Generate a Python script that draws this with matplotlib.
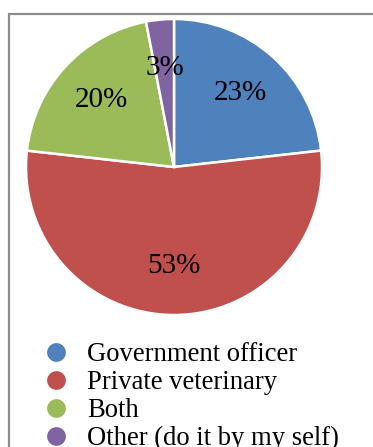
import matplotlib.pyplot as plt
from matplotlib.lines import Line2D
from matplotlib.patches import Rectangle

labels = ["Government officer", "Private veterinary", "Both", "Other (do it by my self)"]
shares = [23, 53, 20, 3]
colors = ["#4F81BD", "#C0504D", "#9BBB59", "#8064A2"]

plt.rcParams['font.family'] = ['Liberation Serif', 'DejaVu Serif']

fig = plt.figure(figsize=(3.73, 4.47), dpi=100)

# chart frame, running off the right and bottom edges
fig.add_artist(Rectangle((9 / 373, -0.1), 1.2, 1 - 14 / 447 + 0.1,
                         transform=fig.transFigure, fill=False,
                         edgecolor="#8C8C8C", linewidth=1.6))

# pie centred at (174, 167) px with radius ~148 px
r = 148
cx, cy = 174, 167
ax = fig.add_axes([(cx - r) / 373, 1 - (cy + r) / 447, 2 * r / 373, 2 * r / 447])
wedges, texts, autotexts = ax.pie(
    shares, colors=colors, startangle=90, counterclock=False,
    autopct=lambda p: f"{round(p * sum(shares) / 100):d}%",
    pctdistance=0.67,
    wedgeprops=dict(edgecolor="white", linewidth=1.8),
    textprops=dict(fontsize=21, color="black"))
ax.set_xlim(-1, 1)
ax.set_ylim(-1, 1)
ax.set_aspect("equal")

handles = [Line2D([], [], marker="o", linestyle="none", markersize=14.5,
                  markerfacecolor=c, markeredgecolor="white", markeredgewidth=1.0)
           for c in colors]
fig.legend(handles, labels, loc="upper left", bbox_to_anchor=(27 / 373, 1 - 329 / 447),
           frameon=False, fontsize=19.2, handletextpad=0.55, labelspacing=0.11,
           borderpad=0, handlelength=1.2)

fig.savefig("out.png", dpi=100)
